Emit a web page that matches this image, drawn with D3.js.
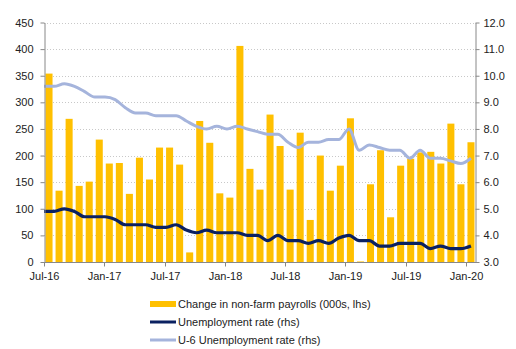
<!DOCTYPE html>
<html>
<head>
<meta charset="utf-8">
<script src="https://cdn.jsdelivr.net/npm/d3@7"></script>
<style>
  body { margin: 0; background: #fff; }
  text { font-family: "Liberation Sans", Arial, sans-serif; font-size: 11px; fill: #222; }
</style>
</head>
<body>
<div id="chart"></div>
<script>
const months = ["Jul-16","Aug-16","Sep-16","Oct-16","Nov-16","Dec-16",
  "Jan-17","Feb-17","Mar-17","Apr-17","May-17","Jun-17","Jul-17","Aug-17","Sep-17","Oct-17","Nov-17","Dec-17",
  "Jan-18","Feb-18","Mar-18","Apr-18","May-18","Jun-18","Jul-18","Aug-18","Sep-18","Oct-18","Nov-18","Dec-18",
  "Jan-19","Feb-19","Mar-19","Apr-19","May-19","Jun-19","Jul-19","Aug-19","Sep-19","Oct-19","Nov-19","Dec-19",
  "Jan-20"]

const payrolls = [354, 134, 269, 143, 151, 230,
  185, 186, 128, 196, 155, 215, 215, 183, 18, 265, 224, 129,
  121, 406, 175, 136, 277, 218, 136, 243, 79, 200, 134, 181,
  270, 1, 146, 210, 84, 181, 194, 206, 207, 185, 260, 146,
  225]

const unemployment = [4.9, 4.9, 5.0, 4.9, 4.7, 4.7,
  4.7, 4.6, 4.4, 4.4, 4.4, 4.3, 4.3, 4.4, 4.2, 4.1, 4.2, 4.1,
  4.1, 4.1, 4.0, 4.0, 3.8, 4.0, 3.8, 3.8, 3.7, 3.8, 3.7, 3.9,
  4.0, 3.8, 3.8, 3.6, 3.6, 3.7, 3.7, 3.7, 3.5, 3.6, 3.5, 3.5,
  3.6]

const u6 = [9.6, 9.6, 9.7, 9.6, 9.4, 9.2,
  9.2, 9.1, 8.8, 8.6, 8.6, 8.5, 8.5, 8.5, 8.3, 8.1, 8.0, 8.1,
  8.0, 8.1, 8.0, 7.9, 7.8, 7.8, 7.5, 7.3, 7.5, 7.5, 7.6, 7.6,
  8.0, 7.2, 7.4, 7.3, 7.2, 7.2, 6.9, 7.2, 6.9, 6.9, 6.8, 6.7,
  6.9]

const xTickLabels = ["Jul-16","Jan-17","Jul-17","Jan-18","Jul-18","Jan-19","Jul-19","Jan-20"]
const leftTicks = [0, 50, 100, 150, 200, 250, 300, 350, 400, 450]
const rightTicks = [3, 4, 5, 6, 7, 8, 9, 10, 11, 12]

const legendItems = [
  { label: "Change in non-farm payrolls (000s, lhs)", color: "#FFC000", width: 6 },
  { label: "Unemployment rate (rhs)", color: "#0B2161", width: 3 },
  { label: "U-6 Unemployment rate (rhs)", color: "#A5B4DC", width: 3 }
]

const W = 516, H = 349
const PLOT = { LEFT: 44, RIGHT: 476, TOP: 22.5, BOTTOM: 262 }
const PAD_OUTER = 0.15

const svg = d3.select("#chart").append("svg")
  .attr("width", W)
  .attr("height", H)

const x = d3.scaleBand()
  .domain(months)
  .range([PLOT.LEFT, PLOT.RIGHT])
  .paddingInner(0.3)
  .paddingOuter(PAD_OUTER)

// category boundary (where the x ticks sit)
const xEdge = m => x(m) - x.step() * PAD_OUTER

// lines run from the left axis to the last category
const xLine = d3.scalePoint()
  .domain(months)
  .range([PLOT.LEFT, x(months[months.length - 1]) + x.bandwidth() / 2])

const yLeft = d3.scaleLinear().domain([0, 450]).range([PLOT.BOTTOM, PLOT.TOP])
const yRight = d3.scaleLinear().domain([3, 12]).range([PLOT.BOTTOM, PLOT.TOP])

// gridlines
svg.append("g")
  .selectAll("line")
  .data(leftTicks.filter(d => d > 0))
  .join("line")
  .attr("x1", PLOT.LEFT)
  .attr("x2", PLOT.RIGHT)
  .attr("y1", d => Math.round(yLeft(d)) + 0.5)
  .attr("y2", d => Math.round(yLeft(d)) + 0.5)
  .attr("stroke", "#c8c8c8")
  .attr("stroke-dasharray", "1,2")

// bars
svg.append("g")
  .selectAll("rect")
  .data(payrolls)
  .join("rect")
  .attr("x", (d, i) => x(months[i]))
  .attr("width", x.bandwidth())
  .attr("y", d => yLeft(d))
  .attr("height", d => PLOT.BOTTOM - yLeft(d))
  .attr("fill", "#FFC000")

// lines
const line = d3.line()
  .x((d, i) => xLine(months[i]))
  .y(d => yRight(d))
  .curve(d3.curveMonotoneX)

svg.append("path")
  .datum(u6)
  .attr("d", line)
  .attr("fill", "none")
  .attr("stroke", "#A5B4DC")
  .attr("stroke-width", 3)

svg.append("path")
  .datum(unemployment)
  .attr("d", line)
  .attr("fill", "none")
  .attr("stroke", "#0B2161")
  .attr("stroke-width", 3.2)

// axes
const axisColor = "#888"

function styleAxis(g) {
  g.select(".domain").attr("stroke", axisColor)
  g.selectAll(".tick line").attr("stroke", axisColor)
  g.selectAll("text")
    .attr("font-size", 11)
    .attr("fill", "#222")
    .attr("font-family", "Liberation Sans, Arial, sans-serif")
}

svg.append("g")
  .attr("transform", `translate(${PLOT.LEFT + 0.5},0)`)
  .call(d3.axisLeft(yLeft).tickValues(leftTicks).tickSize(4).tickPadding(7).tickSizeOuter(0))
  .call(styleAxis)

svg.append("g")
  .attr("transform", `translate(${PLOT.RIGHT - 0.5},0)`)
  .call(d3.axisRight(yRight).tickValues(rightTicks).tickSize(4).tickPadding(4).tickSizeOuter(0)
    .tickFormat(d3.format(".1f")))
  .call(styleAxis)

const bottom = svg.append("g")
  .attr("transform", `translate(0,${PLOT.BOTTOM + 0.5})`)

bottom.append("line")
  .attr("class", "domain")
  .attr("x1", PLOT.LEFT)
  .attr("x2", PLOT.RIGHT)

const xTicks = bottom.selectAll(".tick")
  .data(xTickLabels)
  .join("g")
  .attr("class", "tick")
  .attr("transform", d => `translate(${Math.round(xEdge(d)) + 0.5},0)`)

xTicks.append("line").attr("y2", 4)
xTicks.append("text")
  .attr("y", 17)
  .attr("text-anchor", "middle")
  .text(d => d)

bottom.call(styleAxis)

// legend
const legend = svg.append("g")
  .selectAll("g")
  .data(legendItems)
  .join("g")
  .attr("transform", (d, i) => `translate(150,${304 + i * 18})`)

legend.append("line")
  .attr("x1", 0).attr("x2", 26)
  .attr("stroke", d => d.color)
  .attr("stroke-width", d => d.width)

legend.append("text")
  .attr("x", 28)
  .attr("dy", "0.35em")
  .text(d => d.label)
</script>
</body>
</html>
